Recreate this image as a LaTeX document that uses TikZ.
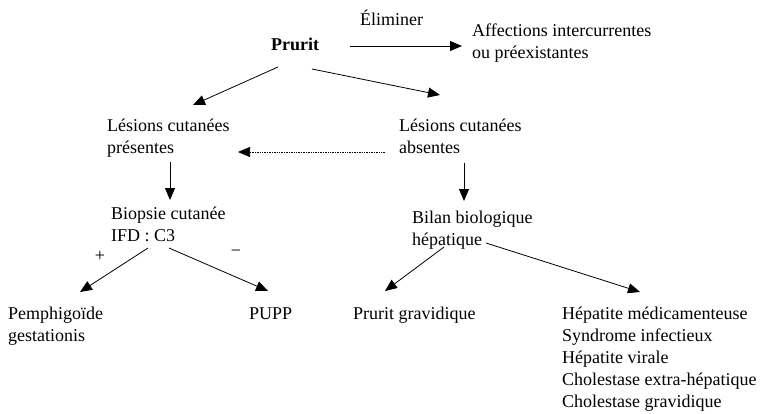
\documentclass[tikz,border=0pt]{standalone}
\usepackage{fontspec}
\setmainfont{Liberation Serif}
\usetikzlibrary{arrows.meta,calc}
\begin{document}
\begin{tikzpicture}[x=1pt,y=-1pt,
  lbl/.style={inner sep=0pt, align=left, anchor=north west, font=\fontsize{18}{22}\selectfont},
  one/.style={lbl, anchor=base west},
  arr/.style={-{Triangle[length=12pt,width=10pt]}, line width=0.8pt},
  dotarr/.style={arr, line width=0.6pt, dash pattern=on 0.8pt off 0.9pt}]
\useasboundingbox[fill=white] (0,0) rectangle (762,414);

% labels
\node[one] (elim) at (360,26) {Éliminer};
\node[one, anchor=base] (prurit) at (295,51) {\bfseries Prurit};
\node[lbl] (affect) at (472,23.5) {Affections intercurrentes\\ou préexistantes};
\node[lbl] (lpres) at (107,118.5) {Lésions cutanées\\présentes};
\node[lbl] (labs) at (399,118.5) {Lésions cutanées\\absentes};
\node[lbl] (biopsie) at (111,206.5) {Biopsie cutanée\\IFD : C3};
\node[lbl] (bilan) at (412,210.5) {Bilan biologique\\hépatique};
\node[lbl, anchor=center] (plus) at (100,256) {+};
\node[lbl, anchor=center] (moins) at (236,253) {−};
\node[lbl] (pemph) at (8,306.5) {Pemphigoïde\\gestationis};
\node[one] (pupp) at (249,319) {PUPP};
\node[one] (prgrav) at (353,319) {Prurit gravidique};
\node[lbl] (causes) at (562,306.5) {Hépatite médicamenteuse\\Syndrome infectieux\\Hépatite virale\\Cholestase extra-hépatique\\Cholestase gravidique};

% connectors
\draw[arr] ($(prurit.base)+(55,-5)$) -- ($(affect.north west)+(-10,22.5)$);
\draw[arr] ($(prurit.base)+(-17,16)$) -- ($(lpres.north west)+(86,-13.5)$);
\draw[arr] ($(prurit.base)+(17,18)$) -- ($(labs.north west)+(41,-23.5)$);
\draw[dotarr] ($(labs.north west)+(-14,33.5)$) -- ($(lpres.north west)+(131,33.5)$);
\draw[arr] ($(lpres.north west)+(63,43.5)$) -- ($(biopsie.north west)+(59,-6.5)$);
\draw[arr] ($(labs.north west)+(65,44.5)$) -- ($(bilan.north west)+(52,-9.5)$);
\draw[arr] ($(biopsie.north west)+(37,41.5)$) -- ($(pemph.north west)+(72,-14.5)$);
\draw[arr] ($(biopsie.north west)+(58,41.5)$) -- ($(pupp.base west)+(19,-28)$);
\draw[arr] ($(bilan.north west)+(32,36.5)$) -- ($(prgrav.base west)+(32,-28)$);
\draw[arr] ($(bilan.north west)+(74,32.5)$) -- ($(causes.north west)+(78,-14.5)$);
\end{tikzpicture}
\end{document}
